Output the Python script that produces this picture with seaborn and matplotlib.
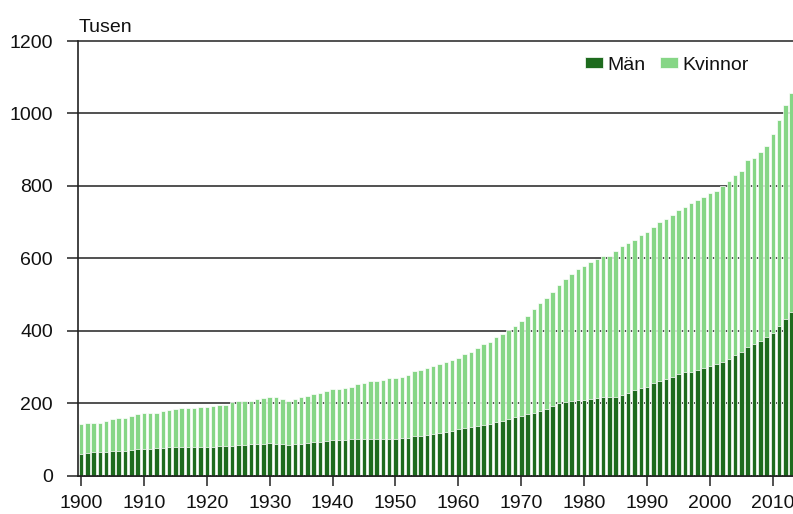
import seaborn as sns
import matplotlib.pyplot as plt
import pandas as pd

# data, thousands
years = list(range(1900, 2014))

man = [61, 62, 64, 64, 65, 68, 69, 69, 70, 73,
       74, 74, 75, 77, 78, 78, 78, 78, 78, 79,
       80, 80, 81, 83, 83, 84, 85, 87, 87, 88,
       91, 88, 88, 85, 87, 88, 89, 92, 93, 96,
       97, 98, 98, 100, 100, 101, 101, 101, 101, 101,
       101, 103, 105, 108, 109, 113, 116, 119, 121, 124,
       128, 131, 134, 137, 140, 143, 147, 152, 156, 161,
       165, 170, 174, 179, 184, 192, 200, 204, 206, 209,
       210, 212, 214, 216, 216, 218, 223, 229, 235, 241,
       246, 255, 260, 266, 273, 280, 285, 287, 292, 296,
       302, 307, 315, 323, 333, 340, 355, 363, 371, 382,
       394, 412, 432, 451]

kvinnor = [81, 84, 82, 82, 86, 88, 90, 90, 94, 96,
           99, 99, 98, 100, 104, 106, 108, 108, 108, 111,
           110, 113, 113, 113, 121, 123, 122, 120, 124, 126,
           126, 129, 124, 122, 125, 129, 131, 133, 136, 138,
           141, 140, 145, 146, 152, 155, 159, 161, 164, 168,
           168, 170, 173, 180, 182, 183, 188, 190, 192, 194,
           198, 204, 207, 216, 222, 227, 235, 240, 245, 253,
           263, 272, 286, 297, 306, 316, 327, 340, 351, 361,
           370, 377, 384, 391, 391, 401, 410, 413, 415, 422,
           427, 431, 439, 443, 447, 454, 458, 465, 469, 473,
           477, 478, 484, 490, 498, 500, 517, 514, 522, 529,
           548, 571, 590, 606]

decade_ticks = list(range(1900, 2011, 10))

df = pd.DataFrame({"year": years, "Män": man, "Kvinnor": kvinnor})
df["total"] = df["Män"] + df["Kvinnor"]

sns.set_style("white")
plt.rcParams["font.family"] = ["Liberation Sans", "DejaVu Sans"]
plt.rcParams["text.color"] = "#111111"

dark = "#1e6b1e"
light = "#86d686"
fs = 14

fig = plt.figure(figsize=(7.93, 5.14), dpi=100)
ax = fig.add_axes([78 / 793, 1 - 475.6 / 514, (793 - 78) / 793, (475.6 - 41) / 514])

sns.barplot(data=df, x="year", y="total", color=light, saturation=1, width=0.72,
            edgecolor="white", linewidth=0.5, label="Kvinnor", ax=ax)
sns.barplot(data=df, x="year", y="Män", color=dark, saturation=1, width=0.72,
            edgecolor="white", linewidth=0.5, label="Män", ax=ax)

ax.set_xlim(-0.48, 113.2)
ax.set_ylim(0, 1200)
ax.set_yticks(range(0, 1201, 200))
ax.set_xticks([y - 1900 for y in decade_ticks])
ax.set_xticklabels([str(y) for y in decade_ticks])
ax.set_xlabel("")
ax.set_ylabel("")

ax.yaxis.grid(True, color="#333333", linewidth=1.2)
ax.set_axisbelow(True)
for gl in ax.get_ygridlines():
    gl.set_clip_on(False)

for s in ["top", "right"]:
    ax.spines[s].set_visible(False)
for s in ["left", "bottom"]:
    ax.spines[s].set_color("#222222")
    ax.spines[s].set_linewidth(1.2)

ax.tick_params(axis="y", direction="out", length=8, width=1.2, color="#333333",
               pad=10, labelsize=fs, labelcolor="#111111", left=True)
ax.tick_params(axis="x", direction="out", length=7, width=1.2, color="#333333",
               pad=7, labelsize=fs, labelcolor="#111111", bottom=True)

fig.text(79 / 793, 1 - 32 / 514, "Tusen", ha="left", va="baseline", fontsize=fs)

h, l = ax.get_legend_handles_labels()
order = [l.index("Män"), l.index("Kvinnor")]
ax.legend([h[i] for i in order], [l[i] for i in order], frameon=False, ncol=2,
          fontsize=fs, handlelength=0.93, handleheight=0.55, handletextpad=0.2,
          columnspacing=0.77, loc="center",
          bbox_to_anchor=(667 / 793, 1 - 65 / 514), bbox_transform=fig.transFigure)

fig.savefig("out.png", dpi=100)
